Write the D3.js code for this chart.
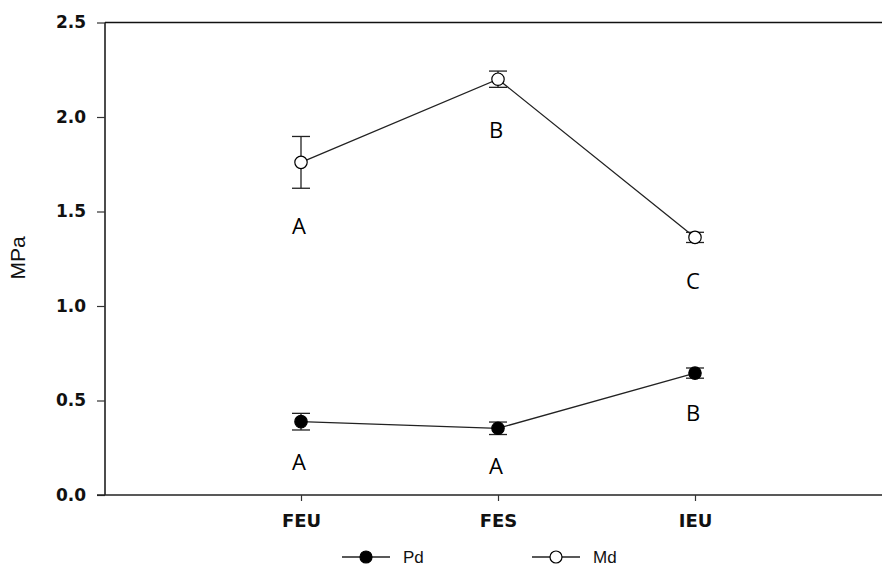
<!DOCTYPE html>
<html><head><meta charset="utf-8">
<script src="https://cdn.jsdelivr.net/npm/d3@7"></script>
<style>body{margin:0;background:#fff}svg{display:block}</style>
</head><body>
<script>
const categories = ["FEU","FES","IEU"];
const pdValues = [0.388, 0.353, 0.645];
const pdErrors = [0.044, 0.033, 0.027];
const mdValues = [1.76, 2.20, 1.363];
const mdErrors = [0.137, 0.043, 0.027];
const pdLetters = ["A","A","B"];
const mdLetters = ["A","B","C"];
const yTicks = [0.0, 0.5, 1.0, 1.5, 2.0, 2.5];

const W = 882, H = 567;
const svg = d3.select("body").append("svg").attr("width", W).attr("height", H);

const x = d3.scalePoint().domain(categories).range([301, 695]);
const y = d3.scaleLinear().domain([0, 2.5]).range([495, 22.5]);
const left = 105, right = 882;

svg.append("line").attr("x1", left).attr("x2", right).attr("y1", y(2.5)).attr("y2", y(2.5)).attr("stroke", "#111").attr("stroke-width", 1.5);

const yAxis = svg.append("g").attr("transform", `translate(${left},0)`)
  .call(d3.axisLeft(y).tickValues(yTicks).tickFormat(d3.format(".1f")).tickSize(8).tickPadding(11));
yAxis.select(".domain").attr("stroke", "#111").attr("stroke-width", 1.5).attr("d", `M0,${y(2.5)}V${y(0)}`);
yAxis.selectAll(".tick line").attr("stroke", "#333").attr("stroke-width", 1.2);
yAxis.selectAll("text").attr("font-family", "DejaVu Sans, sans-serif").attr("font-size", 17).attr("font-weight", "bold").attr("fill", "#111");

const xAxis = svg.append("g").attr("transform", `translate(0,${y(0)})`)
  .call(d3.axisBottom(x).tickSize(6).tickPadding(13));
xAxis.select(".domain").attr("stroke", "#222").attr("stroke-width", 1.5).attr("d", `M${left - 8},0H${right}`);
xAxis.selectAll(".tick line").attr("stroke", "#333").attr("stroke-width", 1.2);
xAxis.selectAll("text").attr("font-family", "DejaVu Sans, sans-serif").attr("font-size", 18).attr("font-weight", "bold").attr("fill", "#111");

svg.append("text").attr("transform", `translate(25,258) rotate(-90)`).attr("text-anchor", "middle")
  .attr("font-family", "Liberation Sans, Arial, sans-serif").attr("font-size", 21).attr("fill", "#111").text("MPa");

function drawSeries(vals, errs, filled, letters, letterDy) {
  const line = d3.line().x((d, i) => x(categories[i])).y(d => y(d));
  svg.append("path").datum(vals).attr("d", line).attr("fill", "none").attr("stroke", "#222").attr("stroke-width", 1.3);
  vals.forEach((v, i) => {
    const cx = x(categories[i]);
    const g = svg.append("g").attr("stroke", "#222").attr("stroke-width", 1.3);
    g.append("line").attr("x1", cx).attr("x2", cx).attr("y1", y(v + errs[i])).attr("y2", y(v - errs[i]));
    g.append("line").attr("x1", cx - 9).attr("x2", cx + 9).attr("y1", y(v + errs[i])).attr("y2", y(v + errs[i]));
    g.append("line").attr("x1", cx - 9).attr("x2", cx + 9).attr("y1", y(v - errs[i])).attr("y2", y(v - errs[i]));
    svg.append("circle").attr("cx", cx).attr("cy", y(v)).attr("r", 6.2)
      .attr("fill", filled ? "#000" : "#fff").attr("stroke", "#000").attr("stroke-width", 1.2);
    svg.append("text").attr("x", cx - 2).attr("y", y(v) + letterDy[i]).attr("text-anchor", "middle")
      .attr("font-family", "Open Sans, Carlito, sans-serif").attr("font-size", 22).attr("fill", "#000").text(letters[i]);
  });
}
drawSeries(mdValues, mdErrors, false, mdLetters, [72, 59, 52]);
drawSeries(pdValues, pdErrors, true, pdLetters, [48, 46, 48]);

function legendItem(x1, x2, filled, label) {
  const ly = 557;
  svg.append("line").attr("x1", x1).attr("x2", x2).attr("y1", ly).attr("y2", ly).attr("stroke", "#222").attr("stroke-width", 1.3);
  svg.append("circle").attr("cx", (x1 + x2) / 2).attr("cy", ly).attr("r", 6)
    .attr("fill", filled ? "#000" : "#fff").attr("stroke", "#000").attr("stroke-width", 1.2);
  svg.append("text").attr("x", x2 + 13).attr("y", ly + 6).attr("font-family", "Liberation Sans, Arial, sans-serif")
    .attr("font-size", 17).attr("fill", "#111").text(label);
}
legendItem(342, 390, true, "Pd");
legendItem(532, 580, false, "Md");
</script>
</body></html>
